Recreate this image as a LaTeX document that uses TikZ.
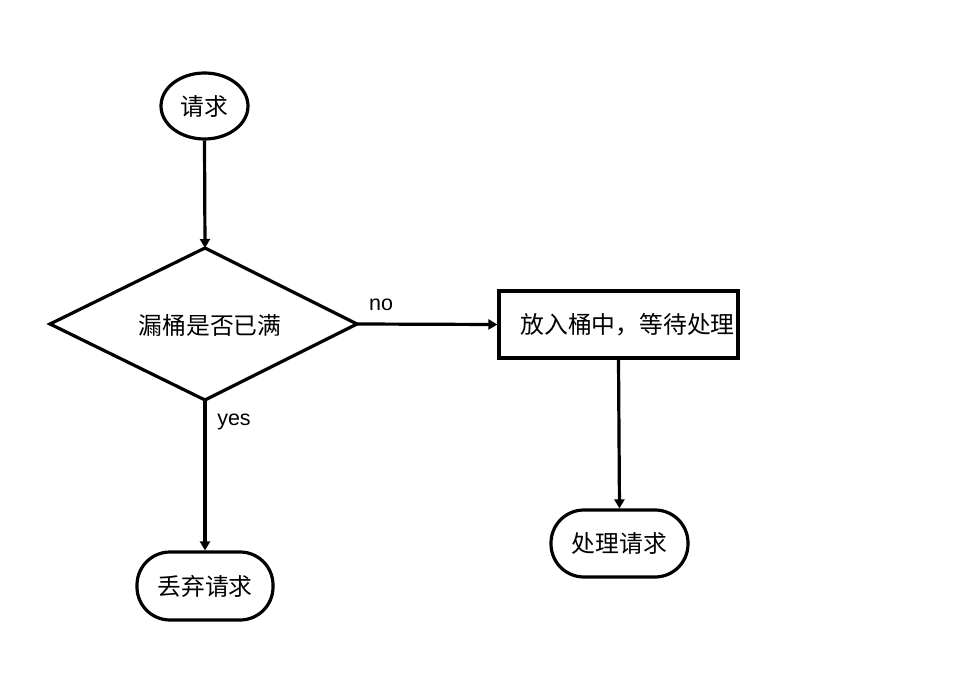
\documentclass[tikz,border=0pt]{standalone}
\usepackage{fontspec}
\setmainfont{Liberation Sans}
\newfontfamily\cjk{Noto Sans CJK SC}
\usetikzlibrary{arrows.meta,shapes.geometric}
\begin{document}
\begin{tikzpicture}[x=1pt,y=-1pt,
  line width=3.2pt,
  cjktext/.style={font=\cjk\fontsize{23.8}{28}\selectfont, inner sep=0pt},
  lat/.style={font=\fontsize{21.5}{25}\selectfont, inner sep=0pt},
  term/.style={draw, rectangle, rounded corners=#1, inner sep=0pt},
  conn/.style={-{Triangle[length=9pt,width=10pt]}, line width=3.2pt}
]
\useasboundingbox (0,0) rectangle (962,698);
% nodes
\node[draw, ellipse, minimum width=87pt, minimum height=66pt, inner sep=0pt] (req) at (204.5,106) {};
\node[cjktext] at (req) {请求};
\draw (50,324) coordinate (dl) -- (205,248) coordinate (dt) -- (357,324) coordinate (dr) -- (205,400) coordinate (db) -- cycle;
\node[cjktext] (qt) at (210,325) {漏桶是否已满};
\node[draw, rectangle, minimum width=239pt, minimum height=67pt, inner sep=0pt] (box) at (618.5,324.5) {};
\node[cjktext] (bt) at (627.5,325) {放入桶中，等待处理};
\node[term=33pt, minimum width=137pt, minimum height=67pt] (proc) at (619.5,543.5) {};
\node[cjktext] at (proc) {处理请求};
\node[term=33pt, minimum width=136pt, minimum height=68pt] (drop) at (205,586) {};
\node[cjktext] at (drop) {丢弃请求};
% connectors
\draw[conn] (req.south) -- (dt);
\draw[conn] (dr) -- (box.west);
\draw[conn] (db) -- (drop.north);
\draw[conn] (box.south) -- (proc.north);
% labels
\node[lat] (no) at (381,305) {no};
\node[lat] (yes) at (234,422) {yes};
\end{tikzpicture}
\end{document}
